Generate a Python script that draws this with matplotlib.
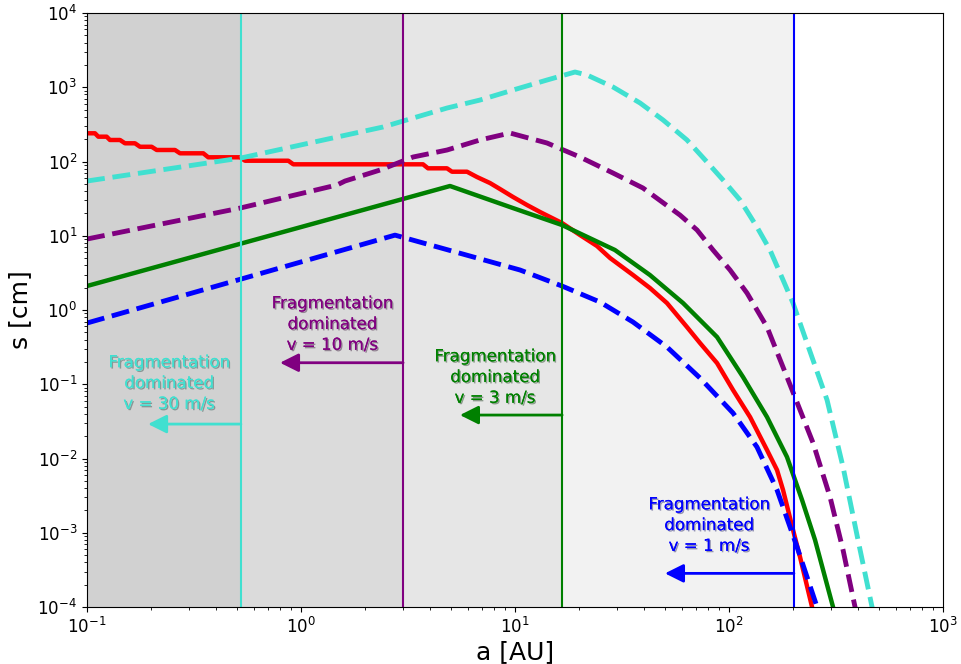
import matplotlib
matplotlib.use('Agg')
import matplotlib.pyplot as plt
import matplotlib.patheffects as pe

# maximum grain size s [cm] versus distance a [AU]
a_sim = [0.1, 0.109, 0.113, 0.1236, 0.128, 0.1427, 0.1505, 0.1676, 0.177, 0.2006,
         0.2117, 0.2578, 0.2721, 0.3496, 0.3688, 0.519, 0.5475, 0.8725, 0.9205, 3.717,
         3.922, 4.81, 5.076, 5.966, 6.646, 7.642, 8.51, 9.79, 11.38, 13.09,
         16.58, 20.12, 24.16, 27.8, 35.6, 42.7, 51.3, 63.6, 73.2, 87.9,
         104.4, 125.4, 150.5, 167.6, 178.8, 199.1, 214.7, 244.3, 252.3]
s_sim = [240, 240, 216, 216, 195, 195, 176, 176, 158, 158,
         143, 143, 129, 129, 114, 114, 102.5, 102.5, 91.7, 91.7,
         81, 81, 72.9, 72.9, 61.8, 51.3, 42.6, 33.3, 25.95, 20.9,
         14.85, 10.23, 7.28, 5.02, 2.96, 1.98, 1.24, 0.59, 0.359, 0.193,
         0.0837, 0.0362, 0.013, 7.0e-3, 3.77e-3, 1.09e-3, 4.71e-4, 1e-4, 2.6e-5]

a_v30 = [0.1, 0.524, 2.416, 3.34, 4.81, 6.86, 9.79, 14.11, 19.07, 21.7, 28.7, 38.4,
         49.2, 63.6, 78.9, 93.8, 112.6, 135.1, 155.4, 178.8, 199.1, 231.4, 287.1,
         341, 400.6, 465.9, 507.6]
s_v30 = [54.6, 111.5, 291.5, 385, 525, 673, 918, 1252, 1605, 1462, 1008, 614,
         362, 195, 98.5, 56.3, 30.3, 13.1, 6.43, 2.54, 1.24, 0.359, 0.0614,
         7.69e-3, 7.99e-4, 1e-4, 2.6e-5]

a_v10 = [0.1, 0.519, 1.473, 1.606, 2.34, 3.34, 4.81, 6.86, 9.48, 14.11, 20.1, 28.7,
         39.6, 59.0, 70.9, 84.2, 101.1, 121.4, 150.5, 186.6, 214.7, 247, 296.5,
         341, 388, 418]
s_v10 = [9.04, 23.6, 48.3, 54.6, 76.8, 115, 142.8, 195, 242, 177.5, 115, 70,
         44, 19.0, 11.95, 6.43, 3.46, 1.69, 0.59, 0.125, 0.045, 0.0162, 3.03e-3,
         5.86e-4, 1e-4, 2.6e-5]

a_v3 = [0.1, 4.97, 9.79, 16.58, 29.3, 42.7, 61.0, 87.9, 116.3, 150.5, 186.6,
        219.4, 252.3, 306.2, 330]
s_v3 = [2.105, 46.8, 23.6, 13.96, 6.43, 2.96, 1.24, 0.433, 0.125, 0.0362, 0.01048,
        2.76e-3, 7.99e-4, 1e-4, 2.6e-5]

a_v1 = [0.1, 2.75, 10.55, 16.58, 24.96, 35.6, 51.3, 73.2, 104.4, 135.1, 167.6,
        207.9, 257.8, 278]
s_v1 = [0.668, 10.2, 3.46, 2.105, 1.28, 0.689, 0.3175, 0.1214, 0.041, 0.01428,
        3.77e-3, 6.43e-4, 1e-4, 2.6e-5]

# fragmentation dominated zones, one per velocity
v_frag = [30, 10, 3, 1]
v_colors = ['turquoise', 'purple', 'green', 'blue']
a_frag = [0.524, 3.0, 16.6, 201.0]
arrow_s = [0.0291, 0.195, 0.0385, 2.84e-4]
arrow_tip = [0.193, 0.798, 5.53, 50.2]
label_a = [0.2416, 1.40, 8.06, 80.6]
label_s = [0.104, 0.648, 0.1252, 1.27e-3]

fig = plt.figure(figsize=(9.62, 6.64), dpi=100)
ax = fig.add_subplot(111)
fig.subplots_adjust(left=0.0904, right=0.9803, bottom=0.0858, top=0.9804)

for xf in a_frag:
    ax.axvspan(0.1, xf, color='gray', alpha=0.1, lw=0, zorder=0)

ax.plot(a_sim, s_sim, color='red', lw=3.2)
ax.plot(a_v30, s_v30, color='turquoise', lw=3.5, ls='--')
ax.plot(a_v10, s_v10, color='purple', lw=3.5, ls='--')
ax.plot(a_v3, s_v3, color='green', lw=3.2)
ax.plot(a_v1, s_v1, color='blue', lw=3.5, ls='--')

shadow = [pe.withSimplePatchShadow(offset=(1, -1), alpha=0.4), pe.Normal()]
for i in range(4):
    c = v_colors[i]
    ax.axvline(a_frag[i], color=c, lw=1.5)
    ax.annotate('', xy=(arrow_tip[i], arrow_s[i]), xytext=(a_frag[i], arrow_s[i]),
                arrowprops=dict(arrowstyle='-|>', color=c, lw=2, mutation_scale=28,
                                shrinkA=0, shrinkB=0))
    ax.text(label_a[i], label_s[i], f"Fragmentation\ndominated\nv = {v_frag[i]} m/s",
            color=c, fontsize=12, ha='center', va='center', multialignment='center',
            path_effects=shadow)

ax.set_xscale('log')
ax.set_yscale('log')
ax.set_xlim(0.1, 1000)
ax.set_ylim(1e-4, 1e4)
ax.tick_params(labelsize=12)
ax.set_xlabel('a [AU]', fontsize=18, labelpad=2)
ax.set_ylabel('s [cm]', fontsize=18)

fig.savefig('out.png', dpi=100)
